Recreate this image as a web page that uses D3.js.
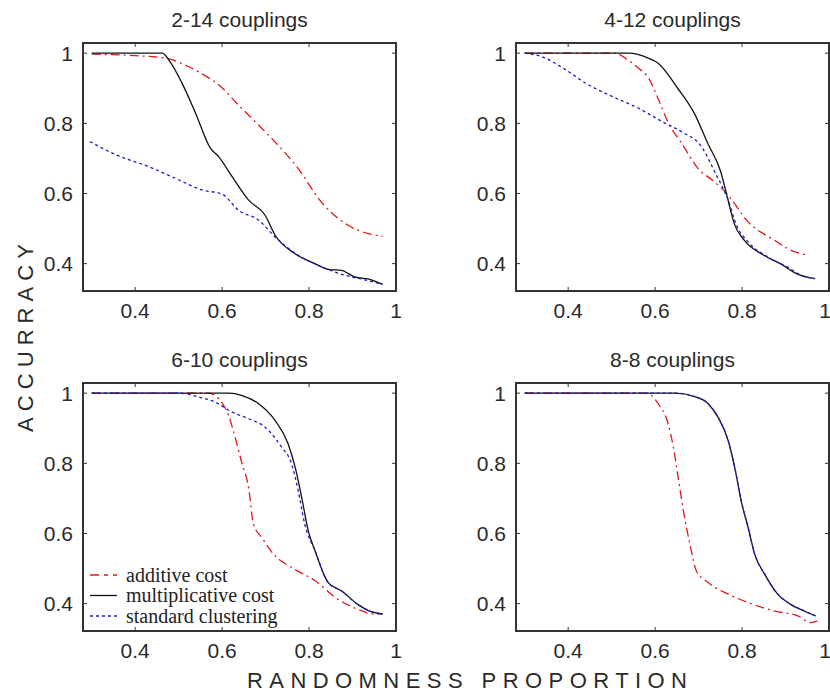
<!DOCTYPE html>
<html lang="en">
<head>
<meta charset="utf-8">
<title>Accuracy vs randomness proportion</title>
<script src="https://d3js.org/d3.v7.min.js"></script>
<style>
  body { margin: 0; background: #fff; }
  svg { display: block; }
  text { font-family: "Liberation Sans", Arial, sans-serif; fill: #2a2a2a; }
  .legend text { font-family: "Liberation Serif", "Times New Roman", serif; fill: #222; }
</style>
</head>
<body>
<script>
// chart data
var panelTitles = ["2-14 couplings", "4-12 couplings", "6-10 couplings", "8-8 couplings"];
var seriesNames = ["additive cost", "multiplicative cost", "standard clustering"];
var xTicks = [0.4, 0.6, 0.8, 1];
var yTicks = [0.4, 0.6, 0.8, 1];
var xTickLabels = ["0.4", "0.6", "0.8", "1"];
var yTickLabels = ["0.4", "0.6", "0.8", "1"];

// 2-14 couplings
var add214 = [[0.3,0.997],[0.4,0.993],[0.47,0.986],[0.508,0.97],[0.562,0.935],[0.592,0.91],[0.638,0.852],[0.691,0.786],[0.714,0.757],[0.775,0.671],[0.828,0.576],[0.889,0.51],[0.935,0.486],[0.969,0.478]];
var mul214 = [[0.3,1],[0.4625,1],[0.48,0.976],[0.508,0.914],[0.539,0.829],[0.573,0.729],[0.592,0.705],[0.623,0.648],[0.661,0.581],[0.699,0.538],[0.722,0.481],[0.767,0.429],[0.813,0.4],[0.847,0.383],[0.874,0.381],[0.905,0.362],[0.943,0.354],[0.969,0.341]];
var std214 = [[0.296,0.748],[0.356,0.71],[0.432,0.676],[0.493,0.643],[0.554,0.61],[0.6,0.598],[0.638,0.552],[0.684,0.524],[0.722,0.476],[0.775,0.424],[0.813,0.4],[0.882,0.367],[0.928,0.354],[0.969,0.341]];

// 4-12 couplings
var add412 = [[0.3,1],[0.508,1],[0.539,0.979],[0.562,0.957],[0.585,0.929],[0.608,0.867],[0.631,0.8],[0.661,0.743],[0.699,0.671],[0.737,0.633],[0.768,0.595],[0.814,0.519],[0.874,0.467],[0.913,0.438],[0.951,0.424]];
var mul412 = [[0.3,1],[0.539,1],[0.584,0.986],[0.607,0.971],[0.652,0.9],[0.69,0.829],[0.721,0.743],[0.751,0.662],[0.766,0.59],[0.782,0.514],[0.805,0.467],[0.85,0.424],[0.888,0.4],[0.926,0.371],[0.968,0.357]];
var std412 = [[0.3,1],[0.342,0.989],[0.395,0.952],[0.441,0.914],[0.502,0.876],[0.562,0.843],[0.616,0.805],[0.661,0.776],[0.707,0.733],[0.737,0.662],[0.768,0.581],[0.787,0.51],[0.814,0.462],[0.859,0.419],[0.905,0.39],[0.936,0.367],[0.968,0.357]];

// 6-10 couplings
var add610 = [[0.3,1],[0.569,1],[0.592,0.984],[0.615,0.936],[0.63,0.874],[0.646,0.798],[0.661,0.731],[0.672,0.627],[0.691,0.589],[0.722,0.536],[0.76,0.503],[0.814,0.465],[0.867,0.412],[0.912,0.384],[0.95,0.37],[0.969,0.371]];
var mul610 = [[0.3,1],[0.615,1],[0.646,0.993],[0.684,0.97],[0.722,0.922],[0.752,0.855],[0.768,0.789],[0.783,0.703],[0.798,0.608],[0.814,0.55],[0.844,0.46],[0.875,0.436],[0.912,0.398],[0.943,0.377],[0.969,0.371]];
var std610 = [[0.3,1],[0.5,1],[0.546,0.989],[0.585,0.974],[0.623,0.946],[0.661,0.927],[0.699,0.903],[0.737,0.846],[0.76,0.798],[0.775,0.722],[0.79,0.627],[0.814,0.55],[0.844,0.46],[0.875,0.436],[0.912,0.398],[0.943,0.377],[0.969,0.371]];

// 8-8 couplings
var add88 = [[0.3,1],[0.58,1],[0.607,0.97],[0.63,0.912],[0.642,0.846],[0.653,0.76],[0.665,0.665],[0.68,0.57],[0.695,0.493],[0.722,0.46],[0.768,0.427],[0.814,0.403],[0.875,0.379],[0.928,0.365],[0.958,0.346],[0.973,0.35]];
var mul88 = [[0.3,1],[0.646,1],[0.691,0.99],[0.722,0.97],[0.745,0.931],[0.768,0.865],[0.783,0.789],[0.798,0.693],[0.814,0.617],[0.829,0.541],[0.852,0.484],[0.882,0.427],[0.912,0.398],[0.943,0.379],[0.969,0.365]];
var std88 = [[0.3,1],[0.646,1],[0.691,0.99],[0.722,0.97],[0.745,0.931],[0.768,0.865],[0.783,0.789],[0.798,0.693],[0.814,0.617],[0.829,0.541],[0.852,0.484],[0.882,0.427],[0.912,0.398],[0.943,0.379],[0.969,0.365]];

var panelSeries = [
  [add214, mul214, std214],
  [add412, mul412, std412],
  [add610, mul610, std610],
  [add88, mul88, std88]
];

// line styles per series (additive, multiplicative, standard)
var colors = ["#e01818", "#111111", "#1c1cc8"];
var dashes = ["9,4,2,4", null, "3,3"];

var W = 830, H = 692;
var svg = d3.select("body").append("svg")
  .attr("width", W)
  .attr("height", H);

// panel frames (left, top) ; size is shared
var pw = 313, ph = 248;
var origins = [[83, 43], [516, 43], [83, 383], [516, 383]];

var xScale = d3.scaleLinear().domain([0.28, 1.0]).range([0, pw]);
var yScale = d3.scaleLinear().domain([0.322, 1.029]).range([ph, 0]);

var line = d3.line()
  .x(function(d) { return xScale(d[0]); })
  .y(function(d) { return yScale(d[1]); })
  .curve(d3.curveMonotoneX);

panelSeries.forEach(function(series, p) {
  var ox = origins[p][0];
  var g = svg.append("g")
    .attr("transform", "translate(" + ox + "," + origins[p][1] + ")");

  // title
  g.append("text")
    .attr("x", pw / 2)
    .attr("y", -16)
    .attr("text-anchor", "middle")
    .style("font-size", "21px")
    .text(panelTitles[p]);

  // curves (red, black, then blue on top)
  series.forEach(function(s, i) {
    g.append("path")
      .datum(s)
      .attr("d", line)
      .attr("fill", "none")
      .attr("stroke", colors[i])
      .attr("stroke-width", 1.3)
      .attr("stroke-dasharray", dashes[i]);
  });

  // inward ticks on all four sides
  xTicks.forEach(function(t) {
    var x = xScale(t);
    g.append("line").attr("x1", x).attr("x2", x).attr("y1", ph).attr("y2", ph - 4).attr("stroke", "#333");
    g.append("line").attr("x1", x).attr("x2", x).attr("y1", 0).attr("y2", 4).attr("stroke", "#333");
  });
  yTicks.forEach(function(t) {
    var y = yScale(t);
    g.append("line").attr("x1", 0).attr("x2", 4).attr("y1", y).attr("y2", y).attr("stroke", "#333");
    g.append("line").attr("x1", pw).attr("x2", pw - 4).attr("y1", y).attr("y2", y).attr("stroke", "#333");
  });

  // frame
  g.append("rect")
    .attr("width", pw)
    .attr("height", ph)
    .attr("fill", "none")
    .attr("stroke", "#333")
    .attr("stroke-width", 2);

  // tick labels (the last one is kept inside the page on the right column)
  g.selectAll(".xl")
    .data(xTicks)
    .enter()
    .append("text")
    .attr("x", function(d) { return Math.min(xScale(d), W - ox - 5); })
    .attr("y", ph + 27)
    .attr("text-anchor", "middle")
    .style("font-size", "21px")
    .text(function(d, i) { return xTickLabels[i]; });

  g.selectAll(".yl")
    .data(yTicks)
    .enter()
    .append("text")
    .attr("x", -10)
    .attr("y", function(d) { return yScale(d); })
    .attr("dy", "0.36em")
    .attr("text-anchor", "end")
    .style("font-size", "21px")
    .text(function(d, i) { return yTickLabels[i]; });

  // legend only in the 6-10 panel
  if (p === 2) {
    var lg = g.append("g").attr("class", "legend");
    seriesNames.forEach(function(name, i) {
      var yy = 192 + i * 20.5;
      lg.append("line")
        .attr("x1", 7).attr("x2", 34)
        .attr("y1", yy).attr("y2", yy)
        .attr("stroke", colors[i])
        .attr("stroke-width", 1.3)
        .attr("stroke-dasharray", i === 0 ? "9,5,4,5" : dashes[i]);
      lg.append("text")
        .attr("x", 43)
        .attr("y", yy + 6.5)
        .style("font-size", "20px")
        .text(name);
    });
  }
});

// axis titles
svg.append("text")
  .attr("transform", "translate(33,338) rotate(-90)")
  .attr("text-anchor", "middle")
  .attr("textLength", 188)
  .attr("lengthAdjust", "spacing")
  .style("font-size", "22px")
  .text("ACCURRACY");

svg.append("text")
  .attr("x", 247)
  .attr("y", 688)
  .attr("textLength", 440)
  .attr("lengthAdjust", "spacing")
  .style("font-size", "22px")
  .text("RANDOMNESS PROPORTION");
</script>
</body>
</html>
